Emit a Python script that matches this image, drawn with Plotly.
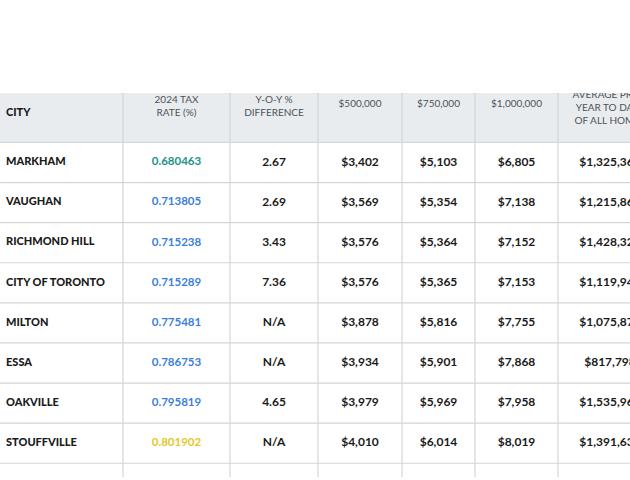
import plotly.graph_objects as go

# ---- data ----
cities = ["MARKHAM", "VAUGHAN", "RICHMOND HILL", "CITY OF TORONTO", "MILTON",
          "ESSA", "OAKVILLE", "STOUFFVILLE"]
tax_rate = ["0.680463", "0.713805", "0.715238", "0.715289", "0.775481",
            "0.786753", "0.795819", "0.801902"]
yoy_diff = ["2.67", "2.69", "3.43", "7.36", "N/A", "N/A", "4.65", "N/A"]
tax_500k = ["$3,402", "$3,569", "$3,576", "$3,576", "$3,878", "$3,934", "$3,979", "$4,010"]
tax_750k = ["$5,103", "$5,354", "$5,364", "$5,365", "$5,816", "$5,901", "$5,969", "$6,014"]
tax_1m = ["$6,805", "$7,138", "$7,152", "$7,153", "$7,755", "$7,868", "$7,958", "$8,019"]
avg_price = ["$1,325,366", "$1,215,866", "$1,428,323", "$1,119,941", "$1,075,876",
             "$817,798", "$1,535,966", "$1,391,633"]
headers = ["CITY", "2024 TAX<br>RATE (%)", "Y-O-Y %<br>DIFFERENCE", "$500,000",
           "$750,000", "$1,000,000", "AVERAGE PRICE<br>YEAR TO DATE<br>OF ALL HOMES"]

# ---- layout constants (pixels / styles) ----
col_edges = [0, 123, 230, 318, 402, 475, 558, 662]
col_centers = [(a + b) / 2 for a, b in zip(col_edges[:-1], col_edges[1:])]
ROW0 = 162.5   # pixel centre of first data row
ROWH = 40.1    # row height
TOP, BOT = 93, 477

def to_row(px):
    return (px - ROW0) / ROWH

rate_colors = ["#1d9289"] + ["#3b7fdd"] * 6 + ["#e3c72a"]
FONT = "Lato"
dark = "#1a1a1a"
hdr_col = "#4d5258"

fig = go.Figure()

n = len(cities)
rows = list(range(n))

# city column (left aligned)
fig.add_trace(go.Scatter(
    x=[6] * n, y=rows, text=cities, mode="text", textposition="middle right",
    textfont=dict(family=FONT, size=11, color=dark, weight=900),
    hoverinfo="skip", cliponaxis=True))

# tax rate column (coloured)
fig.add_trace(go.Scatter(
    x=[col_centers[1]] * n, y=rows, text=tax_rate, mode="text",
    textposition="middle center",
    textfont=dict(family=FONT, size=11.5, color=rate_colors, weight="bold"),
    hoverinfo="skip", cliponaxis=True))

for ci, vals in zip([2, 3, 4, 5, 6], [yoy_diff, tax_500k, tax_750k, tax_1m, avg_price]):
    fig.add_trace(go.Scatter(
        x=[col_centers[ci]] * n, y=rows, text=vals, mode="text",
        textposition="middle center",
        textfont=dict(family=FONT, size=12, color=dark, weight="bold"),
        hoverinfo="skip", cliponaxis=True))

# headers
hdr_px = [113, 106.5, 106.5, 104, 104, 104, 108.5]
fig.add_trace(go.Scatter(
    x=[6], y=[to_row(hdr_px[0])], text=[headers[0]], mode="text",
    textposition="middle right",
    textfont=dict(family=FONT, size=11, color=dark, weight=900),
    hoverinfo="skip", cliponaxis=True))
fig.add_trace(go.Scatter(
    x=col_centers[1:], y=[to_row(p) for p in hdr_px[1:]], text=headers[1:], mode="text",
    textposition="middle center",
    textfont=dict(family=FONT, size=10, color=hdr_col),
    hoverinfo="skip", cliponaxis=True))

shapes = []
# header background
shapes.append(dict(type="rect", xref="x", yref="y", x0=0, x1=700,
                   y0=to_row(TOP - 5), y1=-0.5, fillcolor="#e9ecef",
                   line=dict(width=0), layer="below"))
# horizontal grid lines
for k in range(n + 1):
    shapes.append(dict(type="line", xref="x", yref="y", x0=0, x1=700,
                       y0=k - 0.5, y1=k - 0.5,
                       line=dict(color="#d3d5d8", width=1.2), layer="below"))
# vertical grid lines
for e in col_edges[1:-1]:
    shapes.append(dict(type="line", xref="x", yref="y", x0=e, x1=e,
                       y0=to_row(TOP - 5), y1=to_row(BOT + 5),
                       line=dict(color="#d3d5d8", width=1.2), layer="below"))

fig.update_layout(
    width=630, height=480,
    margin=dict(l=0, r=0, t=TOP, b=480 - BOT),
    paper_bgcolor="white", plot_bgcolor="white",
    showlegend=False, shapes=shapes,
    xaxis=dict(range=[0, 630], visible=False, fixedrange=True),
    yaxis=dict(range=[to_row(BOT), to_row(TOP)], visible=False, fixedrange=True),
)

fig.write_html("out.html",
               config={"displayModeBar": False},
               post_script="document.body.style.margin='0';document.body.style.overflow='hidden';")
